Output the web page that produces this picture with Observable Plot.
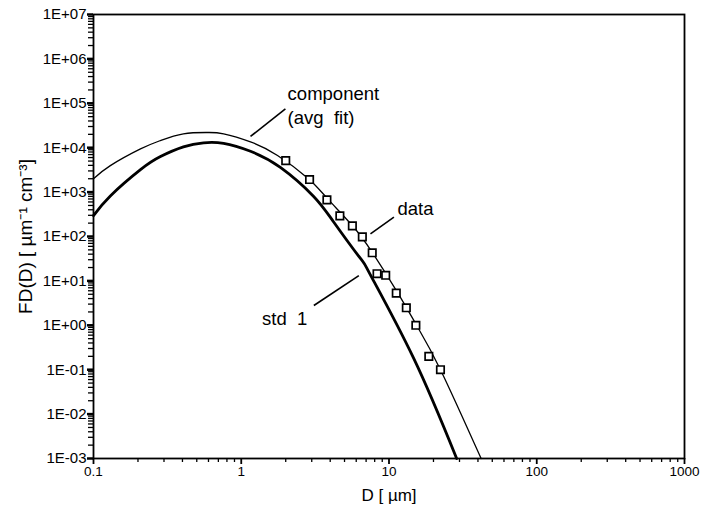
<!DOCTYPE html>
<html>
<head>
<meta charset="utf-8">
<script src="https://cdn.jsdelivr.net/npm/d3@7"></script>
<script src="https://cdn.jsdelivr.net/npm/@observablehq/plot@0.6"></script>
<style>
  html, body { margin: 0; padding: 0; background: #fff; }
  svg text { white-space: pre; }
</style>
</head>
<body>
<div id="chart"></div>
<script>
// Size distribution FD(D): component fit, std 1 curve and measured data.

// Component (average fit) curve, D in µm and FD(D) in µm⁻¹ cm⁻³
const fitD = [0.1, 0.13, 0.208, 0.284, 0.406, 0.59, 0.76, 1.155, 1.76, 2.85, 3.82, 5.66, 7.7, 11.3, 15.3, 22.3, 42];
const fitF = [2000, 3950, 9400, 14500, 20500, 22000, 20500, 13500, 6700, 2000, 720, 175, 44, 5.8, 1.03, 0.1, 0.001];

// std 1 curve
const stdD = [0.1, 0.13, 0.208, 0.284, 0.406, 0.556, 0.76, 1.155, 1.84, 3.08, 4.21, 6.41, 7.5, 14.7, 28.7];
const stdF = [295, 820, 3200, 6300, 10400, 12900, 12500, 8300, 3600, 810, 215, 32, 13.5, 0.18, 0.001];

// Measured data
const dataD = [2.0, 2.9, 3.8, 4.65, 5.65, 6.6, 7.7, 8.3, 9.5, 11.2, 13.1, 15.2, 18.6, 22.3];
const dataF = [5100, 1920, 670, 292, 174, 98, 43, 14.5, 13.4, 5.3, 2.48, 1.0, 0.2, 0.1];

// Axis ticks and labels
const xTicks = [0.1, 1, 10, 100, 1000];
const xTickLabels = ["0.1", "1", "10", "100", "1000"];
const yTicks = [1e-3, 1e-2, 1e-1, 1e0, 1e1, 1e2, 1e3, 1e4, 1e5, 1e6, 1e7];
const yTickLabels = ["1E-03", "1E-02", "1E-01", "1E+00", "1E+01", "1E+02", "1E+03", "1E+04", "1E+05", "1E+06", "1E+07"];

// Curve annotations: text, anchor point, leader line ends
const noteText = ["component", "(avg  fit)", "data", "std  1"];
const noteD = [2.06, 2.06, 11.4, 2.8];
const noteF = [162000, 45500, 406, 1.35];
const noteAnchor = ["start", "start", "start", "end"];
const leaderD1 = [1.155, 7.49, 3.1];
const leaderF1 = [17900, 115, 2.79];
const leaderD2 = [1.99, 10.8, 6.25];
const leaderF2 = [75100, 272, 13.2];

const fit = fitD.map((D, i) => ({D, F: fitF[i]}));
const std = stdD.map((D, i) => ({D, F: stdF[i]}));
const data = dataD.map((D, i) => ({D, F: dataF[i]}));
const notes = noteText.map((text, i) => ({text, D: noteD[i], F: noteF[i], anchor: noteAnchor[i]}));
const leaders = leaderD1.map((d, i) => ({D1: d, F1: leaderF1[i], D2: leaderD2[i], F2: leaderF2[i]}));

// Minor ticks at 2..9 of each decade
const minor = (lo, hi) => {
  const t = [];
  for (let e = lo; e < hi; e++) for (let m = 2; m <= 9; m++) t.push(m * Math.pow(10, e));
  return t;
};
const xMinor = minor(-1, 3);
const yMinor = minor(-3, 7);

const font = "'Liberation Sans', Arial, Helvetica, sans-serif";

const chart = Plot.plot({
  width: 706,
  height: 506,
  marginLeft: 93,
  marginRight: 22,
  marginTop: 14,
  marginBottom: 48,
  style: {fontFamily: font, color: "black", background: "white", overflow: "visible"},
  x: {type: "log", domain: [0.1, 1000]},
  y: {type: "log", domain: [1e-3, 1e7]},
  marks: [
    Plot.axisX(xMinor, {tickSize: 4, tickFormat: () => "", label: null, strokeWidth: 1.3}),
    Plot.axisX(xTicks, {tickSize: 6, tickPadding: 2, fontSize: 13.5, label: null, strokeWidth: 1.8,
      tickFormat: (d) => xTickLabels[xTicks.indexOf(d)]}),
    Plot.axisY(yMinor, {tickSize: 5, tickFormat: () => "", label: null, strokeWidth: 1.3}),
    Plot.axisY(yTicks, {tickSize: 6, tickPadding: 1, fontSize: 15, label: null, strokeWidth: 2.5,
      tickFormat: (d) => yTickLabels[yTicks.indexOf(d)]}),
    Plot.frame({stroke: "black", strokeWidth: 1.8}),
    Plot.line(fit, {x: "D", y: "F", stroke: "black", strokeWidth: 1.3, curve: "natural"}),
    Plot.line(std, {x: "D", y: "F", stroke: "black", strokeWidth: 2.8, curve: "natural"}),
    Plot.dot(data, {x: "D", y: "F", symbol: "square", r: 4.2, fill: "white", stroke: "black", strokeWidth: 1.7}),
    Plot.link(leaders, {x1: "D1", y1: "F1", x2: "D2", y2: "F2", stroke: "black", strokeWidth: 1.6}),
    Plot.text(notes, {filter: (d) => d.anchor === "start", x: "D", y: "F", text: "text", textAnchor: "start", fontSize: 18.5, fill: "black"}),
    Plot.text(notes, {filter: (d) => d.anchor === "end", x: "D", y: "F", text: "text", textAnchor: "end", fontSize: 18.5, fill: "black"}),
    Plot.text(["D [ µm]"], {frameAnchor: "bottom", dy: 37, textAnchor: "middle", lineAnchor: "middle", fontSize: 17, fill: "black"}),
    Plot.text(["FD(D) [ µm⁻¹ cm⁻³]"], {frameAnchor: "left", dx: -68, rotate: -90, textAnchor: "middle", lineAnchor: "middle", fontSize: 19, fill: "black"})
  ]
});

document.getElementById("chart").appendChild(chart);
</script>
</body>
</html>
